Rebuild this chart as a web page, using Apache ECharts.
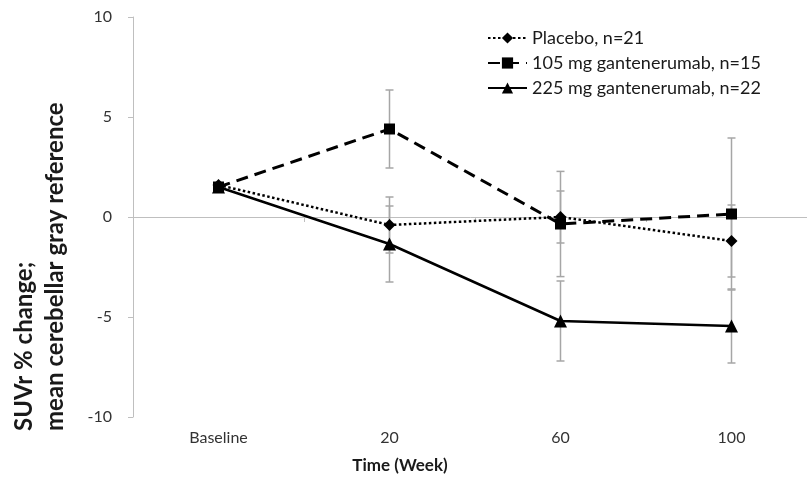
<!DOCTYPE html>
<html>
<head>
<meta charset="utf-8">
<script src="https://cdn.jsdelivr.net/npm/echarts@6/dist/echarts.min.js"></script>
<style>
  html, body { margin: 0; padding: 0; background: #ffffff; }
  #chart { width: 807px; height: 483px; }
</style>
</head>
<body>
<div id="chart"></div>
<script>
// Visit time points on the x axis
const timepoints = ['Baseline', '20', '60', '100'];

// Group names shown in the legend
const placeboName = 'Placebo, n=21';
const mg105Name = '105 mg gantenerumab, n=15';
const mg225Name = '225 mg gantenerumab, n=22';

// Mean SUVr % change per time point
const placeboMean = [1.6, -0.4, 0.0, -1.2];
const mg105Mean = [1.5, 4.4, -0.35, 0.15];
const mg225Mean = [1.5, -1.35, -5.2, -5.45];

// Error bar half-widths (no bar at baseline)
const placeboErr = [null, 1.4, 1.3, 1.8];
const mg105Err = [null, 1.95, 2.63, 3.8];
const mg225Err = [null, 1.9, 2.0, 1.85];

// Y axis range and step
const yMin = -10, yMax = 10, yStep = 5;

const FONT = 'Lato, "Open Sans", sans-serif';
const AXIS_GRAY = '#bfbfbf';
const ERR_GRAY = '#a6a6a6';

function errorData(mean, err) {
  const out = [];
  mean.forEach((m, i) => {
    if (err[i] != null) out.push([i, m, err[i]]);
  });
  return out;
}

function renderErrorBar(params, api) {
  const i = api.value(0);
  const m = api.value(1);
  const e = api.value(2);
  const top = api.coord([i, m + e]);
  const bot = api.coord([i, m - e]);
  const hw = 4;
  const style = { stroke: ERR_GRAY, lineWidth: 1.5 };
  return {
    type: 'group',
    children: [
      { type: 'line', shape: { x1: top[0], y1: top[1], x2: bot[0], y2: bot[1] }, style: style },
      { type: 'line', shape: { x1: top[0] - hw, y1: top[1], x2: top[0] + hw, y2: top[1] }, style: style },
      { type: 'line', shape: { x1: bot[0] - hw, y1: bot[1], x2: bot[0] + hw, y2: bot[1] }, style: style }
    ]
  };
}

function errorSeries(mean, err) {
  return {
    type: 'custom',
    xAxisIndex: 0,
    yAxisIndex: 0,
    renderItem: renderErrorBar,
    encode: { x: 0, y: 1 },
    data: errorData(mean, err),
    z: 1,
    silent: true
  };
}

const chart = echarts.init(document.getElementById('chart'), null, { renderer: 'canvas' });

chart.setOption({
  animation: false,
  backgroundColor: '#ffffff',
  textStyle: { fontFamily: FONT },
  grid: { left: 133, right: -10, top: 17, bottom: 66, containLabel: false, outerBoundsMode: 'none' },
  legend: {
    data: [placeboName, mg105Name, mg225Name],
    orient: 'vertical',
    left: 482,
    top: 24,
    itemWidth: 39,
    itemHeight: 14,
    itemGap: 7,
    textStyle: { fontFamily: FONT, fontSize: 18, color: '#1a1a1a' }
  },
  xAxis: [
    {
      type: 'category',
      data: timepoints,
      boundaryGap: true,
      position: 'bottom',
      axisLine: { show: false, onZero: false },
      axisTick: { show: false },
      axisLabel: { fontFamily: FONT, fontSize: 16, color: '#333333', margin: 13 },
      splitLine: { show: false }
    },
    {
      // horizontal reference line at zero with its category ticks
      type: 'category',
      data: timepoints,
      boundaryGap: true,
      position: 'top',
      axisLine: { show: true, onZero: true, lineStyle: { color: AXIS_GRAY, width: 1 } },
      axisTick: { show: true, inside: true, length: 5, interval: 0, lineStyle: { color: AXIS_GRAY } },
      axisLabel: { show: false },
      splitLine: { show: false }
    }
  ],
  yAxis: {
    type: 'value',
    min: yMin,
    max: yMax,
    interval: yStep,
    axisLine: { show: true, lineStyle: { color: AXIS_GRAY, width: 1 } },
    axisTick: { show: true, length: 5, lineStyle: { color: AXIS_GRAY } },
    axisLabel: { fontFamily: FONT, fontSize: 16, color: '#333333', margin: 21 },
    splitLine: { show: false }
  },
  graphic: [
    {
      type: 'text',
      x: 9,
      y: 431,
      rotation: Math.PI / 2,
      style: {
        text: 'SUVr % change;\nmean cerebellar gray reference',
        fontFamily: FONT,
        fontWeight: 'bold',
        fontSize: 24,
        lineHeight: 31,
        fill: '#1a1a1a',
        align: 'left',
        verticalAlign: 'top'
      }
    },
    {
      type: 'text',
      x: 400,
      y: 466,
      style: {
        text: 'Time (Week)',
        fontFamily: FONT,
        fontWeight: 'bold',
        fontSize: 17,
        fill: '#1a1a1a',
        align: 'center',
        verticalAlign: 'middle'
      }
    }
  ],
  series: [
    errorSeries(placeboMean, placeboErr),
    errorSeries(mg105Mean, mg105Err),
    errorSeries(mg225Mean, mg225Err),
    {
      name: placeboName,
      type: 'line',
      data: placeboMean,
      symbol: 'diamond',
      symbolSize: 12,
      z: 3,
      lineStyle: { color: '#000', width: 2.5, type: [2.5, 2.5] },
      itemStyle: { color: '#000' }
    },
    {
      name: mg105Name,
      type: 'line',
      data: mg105Mean,
      symbol: 'rect',
      symbolSize: 11,
      z: 3,
      lineStyle: { color: '#000', width: 3, type: [12, 7] },
      itemStyle: { color: '#000' }
    },
    {
      name: mg225Name,
      type: 'line',
      data: mg225Mean,
      symbol: 'triangle',
      symbolSize: 13,
      z: 3,
      lineStyle: { color: '#000', width: 2.5, type: 'solid' },
      itemStyle: { color: '#000' }
    }
  ]
});
</script>
</body>
</html>
